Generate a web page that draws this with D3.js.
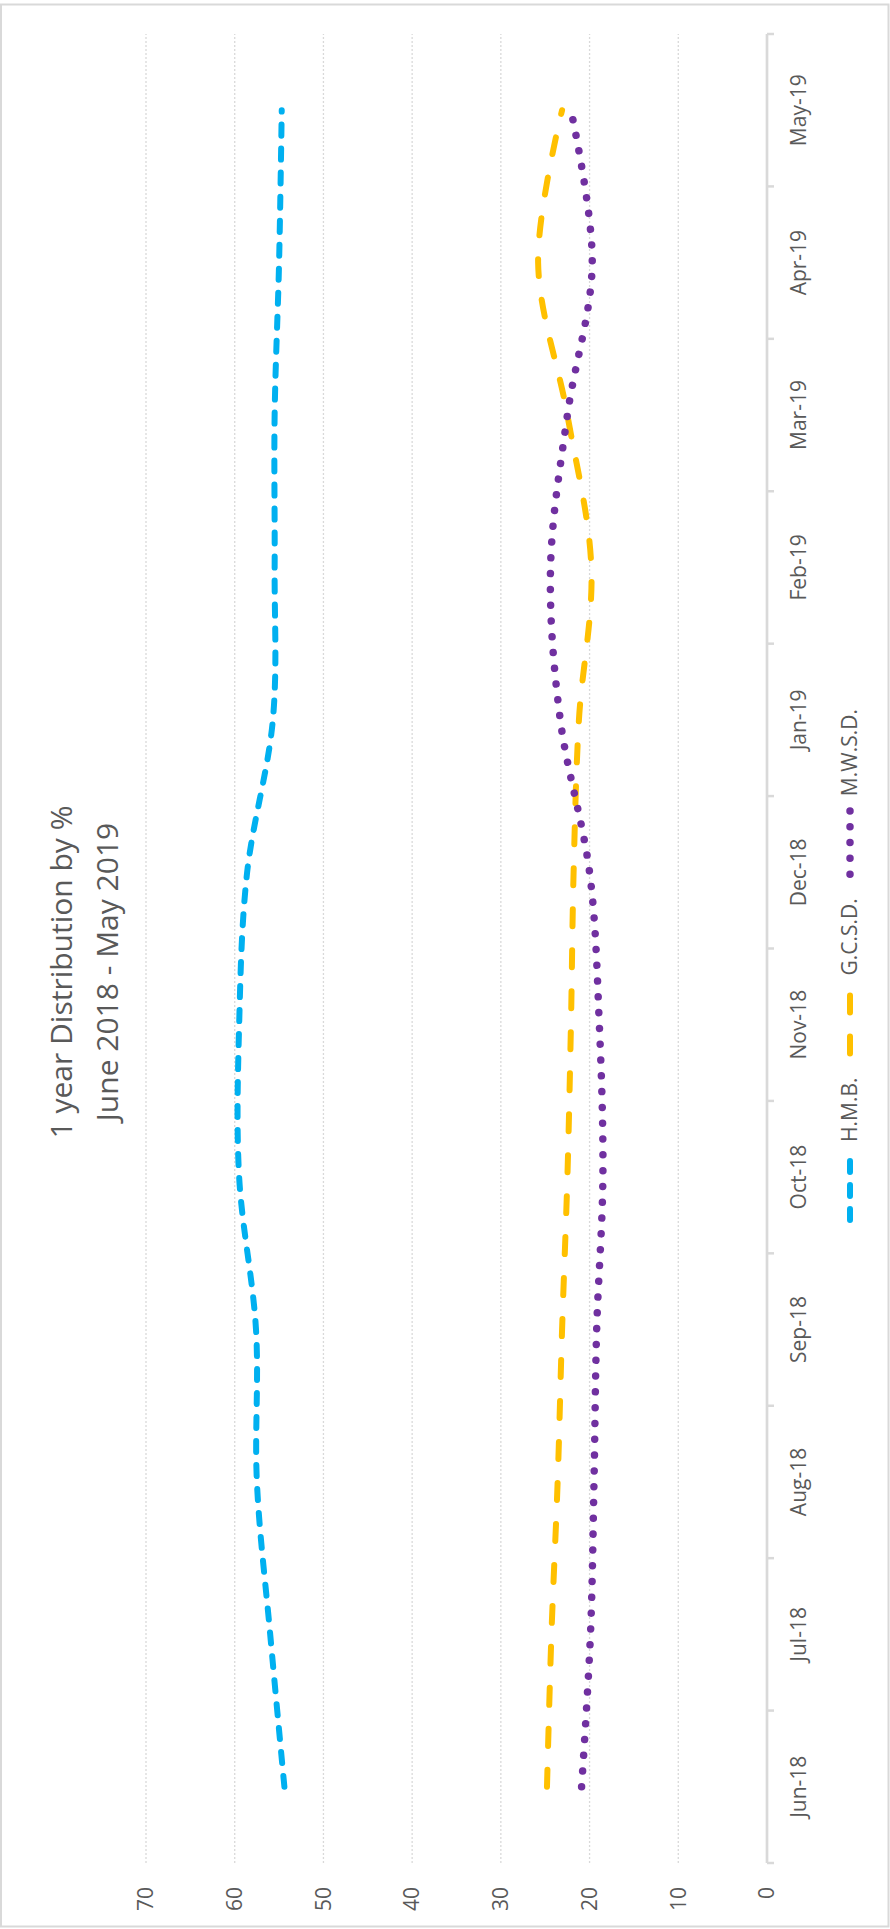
<!DOCTYPE html>
<html>
<head>
<meta charset="utf-8">
<script src="https://cdn.jsdelivr.net/npm/d3@7"></script>
<style>
  html, body { margin: 0; padding: 0; background: #fff; }
  svg { display: block; }
  text { font-family: "Open Sans", "Liberation Sans", sans-serif; fill: #595959; }
</style>
</head>
<body>
<svg id="chart" width="890" height="1929"></svg>
<script>
// ---- data ----
const months = ["Jun-18","Jul-18","Aug-18","Sep-18","Oct-18","Nov-18","Dec-18","Jan-19","Feb-19","Mar-19","Apr-19","May-19"];
const hmb  = [54.4, 56.0, 57.5, 57.6, 59.5, 59.5, 58.6, 55.7, 55.5, 55.5, 55.0, 54.7];
const gcsd = [24.8, 24.3, 23.6, 23.1, 22.5, 22.1, 21.8, 21.2, 19.8, 22.5, 25.8, 23.1];
const mwsd = [20.9, 19.9, 19.5, 19.2, 18.5, 18.9, 20.0, 23.3, 24.4, 22.5, 19.7, 22.1];
const valueTicks = [0, 10, 20, 30, 40, 50, 60, 70];
const seriesNames = ["H.M.B.", "G.C.S.D.", "M.W.S.D."];
const titleLines = ["1 year Distribution by %", "June 2018 - May 2019"];

// ---- layout (unrotated frame: W wide, H tall, then rotated -90deg) ----
const W = 1929, H = 890;
const svg = d3.select("#chart");

// chart border (in page coordinates)
svg.append("rect").attr("x", 1).attr("y", 4.5).attr("width", 887.5).attr("height", 1922)
  .attr("fill", "none").attr("stroke", "#d9d9d9").attr("stroke-width", 2);

const g = svg.append("g").attr("transform", `translate(0,${1929}) rotate(-90)`);

const plotL = 66, plotR = 1895, plotT = 146, plotB = 767;
const x = d3.scaleBand().domain(months).range([plotL, plotR]).padding(0);
const y = d3.scaleLinear().domain([0, 70]).range([plotB, plotT]);
const cx = m => x(m) + x.bandwidth() / 2;

// gridlines
g.append("g").selectAll("line").data(valueTicks.filter(v => v > 0)).join("line")
  .attr("x1", plotL).attr("x2", plotR)
  .attr("y1", d => y(d)).attr("y2", d => y(d))
  .attr("stroke", "#d9d9d9").attr("stroke-width", 1.3).attr("stroke-dasharray", "2 2");

// value axis labels (no line)
const yAxis = d3.axisLeft(y).tickValues(valueTicks).tickSize(0).tickPadding(0);
const ya = g.append("g").attr("transform", `translate(42,0)`).call(yAxis);
ya.select(".domain").remove();
ya.selectAll("text").attr("font-size", 21).attr("fill", "#595959")
  .style("font-family", '"Open Sans", sans-serif');

// category axis
const xAxis = d3.axisBottom(x).tickSize(0).tickPadding(0);
const xa = g.append("g").attr("transform", `translate(0,${plotB})`).call(xAxis);
xa.select(".domain").remove();
xa.selectAll("text").attr("font-size", 21).attr("fill", "#595959").attr("dy", null).attr("y", 39)
  .style("font-family", '"Open Sans", sans-serif');
// tick marks at band boundaries
const bounds = months.map(m => x(m)).concat([plotR]);
g.append("g").selectAll("line").data(bounds).join("line")
  .attr("x1", d => d).attr("x2", d => d).attr("y1", plotB).attr("y2", plotB + 7)
  .attr("stroke", "#d9d9d9").attr("stroke-width", 2.5);
g.append("line").attr("x1", plotL).attr("x2", plotR).attr("y1", plotB).attr("y2", plotB)
  .attr("stroke", "#d9d9d9").attr("stroke-width", 2.7);

// lines
const styles = [
  {name: seriesNames[0], data: hmb,  color: "#00B0F0", width: 6, dash: "11 13"},
  {name: seriesNames[1], data: gcsd, color: "#FFC000", width: 6, dash: "17 24"},
  {name: seriesNames[2], data: mwsd, color: "#7030A0", width: 7.5, dash: "0.01 15.8"}
];
const line = d3.line().x((d, i) => cx(months[i])).y(d => y(d)).curve(d3.curveCatmullRom.alpha(0));
g.append("g").selectAll("path").data(styles).join("path")
  .attr("d", s => line(s.data))
  .attr("fill", "none").attr("stroke", s => s.color).attr("stroke-width", s => s.width)
  .attr("stroke-dasharray", s => s.dash).attr("stroke-linecap", "round").attr("stroke-linejoin", "round");

// legend
const L = 70, gap = 8, spacing = 24, legY = 850;
const tmp = g.append("g");
const widths = seriesNames.map(n => {
  const t = tmp.append("text").attr("font-size", 21).text(n);
  const w = t.node().getComputedTextLength(); t.remove(); return w;
});
tmp.remove();
const total = widths.reduce((a, b) => a + b, 0) + 3 * (L + gap) + 2 * spacing;
let pos = W / 2 - total / 2;
const leg = g.append("g");
styles.forEach((s, i) => {
  leg.append("line").attr("x1", pos).attr("x2", pos + L).attr("y1", legY).attr("y2", legY)
    .attr("stroke", s.color).attr("stroke-width", s.width).attr("stroke-dasharray", s.dash)
    .attr("stroke-linecap", "round");
  leg.append("text").attr("x", pos + L + gap).attr("y", legY).attr("dy", "0.35em")
    .attr("font-size", 21).text(s.name);
  pos += L + gap + widths[i] + spacing;
});

// title
const titleX = 957;
g.append("text").attr("x", titleX).attr("y", 72).attr("text-anchor", "middle")
  .attr("font-size", 30).text(titleLines[0]);
g.append("text").attr("x", titleX).attr("y", 118).attr("text-anchor", "middle")
  .attr("font-size", 30).text(titleLines[1]);
</script>
</body>
</html>
